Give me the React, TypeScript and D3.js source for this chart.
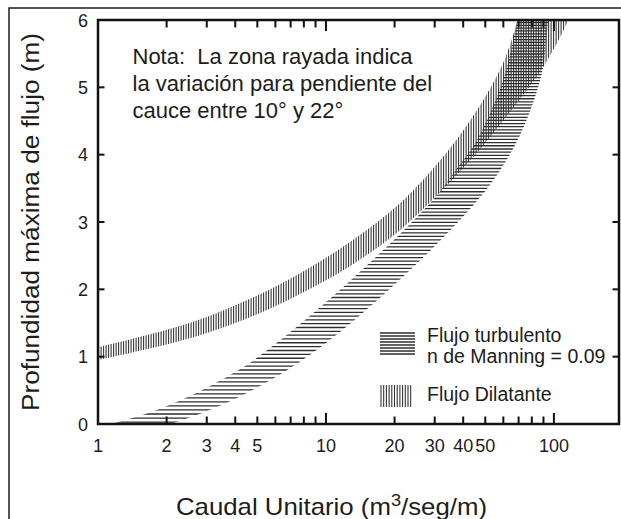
import React from 'react';
import * as d3 from 'd3';

// Unit discharge q (m3/seg/m) against maximum flow depth h (m)
// Dilatant flow band: upper and lower bounds (channel slope 10°–22°)
const dilatanteUpperQ = [1, 2, 3, 5, 7.7, 12.7, 21, 31.6, 40, 50, 60, 67, 70];
const dilatanteUpperH = [1.14, 1.4, 1.59, 1.91, 2.24, 2.7, 3.27, 3.91, 4.36, 4.86, 5.37, 5.83, 6.06];
const dilatanteLowerQ = [1, 2, 3, 5, 7.7, 12.7, 21, 31.6, 45, 65, 90, 114, 125];
const dilatanteLowerH = [0.95, 1.18, 1.35, 1.63, 1.93, 2.34, 2.87, 3.44, 3.99, 4.66, 5.31, 5.95, 6.3];

// Turbulent flow band (Manning n = 0.09): upper and lower bounds
const turbulentoUpperQ = [1.15, 1.35, 1.55, 1.85, 2.66, 3.9, 4.6, 6.5, 9.1, 12.7, 17.8, 25, 31.6, 38, 45, 52, 58, 63, 67, 70];
const turbulentoUpperH = [0, 0.07, 0.13, 0.22, 0.45, 0.75, 0.9, 1.28, 1.69, 2.12, 2.58, 3.07, 3.45, 3.82, 4.16, 4.59, 4.97, 5.37, 5.77, 6.11];
const turbulentoLowerQ = [2.1, 2.45, 2.75, 3.1, 4.2, 5.3, 6.6, 7.8, 10.5, 14.5, 20, 28, 40, 52.4, 62, 71, 78.5, 84, 89.8, 93, 96];
const turbulentoLowerH = [0, 0.08, 0.14, 0.21, 0.41, 0.59, 0.78, 0.94, 1.26, 1.65, 2.07, 2.54, 3.08, 3.55, 3.92, 4.29, 4.64, 4.93, 5.31, 5.8, 6.2];

// Axes
const xDomain = [1, 193];
const yDomain = [0, 6];
const xTickLabels = [1, 2, 3, 4, 5, 10, 20, 30, 40, 50, 100];
const xMinorTicks = [2, 3, 4, 5, 6, 7, 8, 9, 20, 30, 40, 50, 60, 70, 80, 90];
const xMajorTicks = [10, 100];
const yTicks = [0, 1, 2, 3, 4, 5, 6];

const noteLines = [
  'Nota:  La zona rayada indica',
  'la variación para pendiente del',
  'cauce entre 10° y 22°',
];
const legendTurbulento = ['Flujo turbulento', 'n de Manning = 0.09'];
const legendDilatante = 'Flujo Dilatante';

const W = 621;
const H = 519;
const FONT = "'Liberation Sans', Arial, Helvetica, sans-serif";
const INK = '#1c1c1c';
const HATCH = '#2e2e2e';

export default function App() {
  const left = 98, right = 619, top = 20, bottom = 424;
  const x = d3.scaleLog().domain(xDomain).range([left, right]);
  const y = d3.scaleLinear().domain(yDomain).range([bottom, top]);

  const pts = (qs: number[], hs: number[]) =>
    qs.map((q, i) => [x(q), y(hs[i])] as [number, number]);
  const lineGen = d3.line().curve(d3.curveCatmullRom.alpha(0.5));
  const bandPath = (upper: [number, number][], lower: [number, number][]) => {
    const a = lineGen(upper) as string;
    const b = lineGen(lower.slice().reverse()) as string;
    return a + 'L' + b.slice(1) + 'Z';
  };

  const dilPath = bandPath(pts(dilatanteUpperQ, dilatanteUpperH), pts(dilatanteLowerQ, dilatanteLowerH));
  const turPath = bandPath(pts(turbulentoUpperQ, turbulentoUpperH), pts(turbulentoLowerQ, turbulentoLowerH));

  // vertical hatch for the dilatant band
  const vLines = d3.range(left + 0.6, right, 2.5);
  // horizontal hatch for the turbulent band, a little wider apart near the bed
  const hLines: number[] = [];
  for (let yy = bottom - 1.8; yy > top - 3; ) {
    hLines.push(yy);
    yy -= 2.8 + 1.3 * (yy - top) / (bottom - top);
  }

  // legend swatches
  const sw1 = { x: 380, y: 332, w: 35, h: 23 };
  const sw2 = { x: 380, y: 385, w: 33, h: 22 };

  return (
    <svg
      width={W}
      height={H}
      viewBox={`0 0 ${W} ${H}`}
      style={{ position: 'absolute', left: 0, top: 0, background: '#fff' }}
      fontFamily={FONT}
    >
      <rect x={0} y={0} width={W} height={H} fill="#fff" />
      {/* outer frame */}
      <rect x={9} y={8} width={W + 40} height={H + 40} fill="none" stroke="#2a2a2a" strokeWidth={1.6} />

      <defs>
        <clipPath id="plotClip">
          <rect x={left} y={top} width={right - left} height={bottom - top} />
        </clipPath>
        <clipPath id="dilClip">
          <path d={dilPath} />
        </clipPath>
        <clipPath id="turClip">
          <path d={turPath} />
        </clipPath>
        <clipPath id="sw1Clip">
          <rect x={sw1.x} y={sw1.y} width={sw1.w} height={sw1.h} />
        </clipPath>
        <clipPath id="sw2Clip">
          <rect x={sw2.x} y={sw2.y} width={sw2.w} height={sw2.h} />
        </clipPath>
      </defs>

      {/* hatched bands */}
      <g clipPath="url(#plotClip)">
        <g clipPath="url(#turClip)">
          {hLines.map((yy, i) => (
            <line key={i} x1={left} x2={right} y1={yy} y2={yy} stroke={HATCH} strokeWidth={1.3} />
          ))}
        </g>
        <g clipPath="url(#dilClip)">
          {vLines.map((xx, i) => (
            <line key={i} x1={xx} x2={xx} y1={top} y2={bottom} stroke={HATCH} strokeWidth={1.05} />
          ))}
        </g>
      </g>

      {/* axes box */}
      <rect x={left} y={top} width={right - left} height={bottom - top} fill="none" stroke="#111" strokeWidth={2.5} />

      {/* x ticks (bottom and top, inward) */}
      {xMinorTicks.map((t) => (
        <g key={'m' + t}>
          <line x1={x(t)} x2={x(t)} y1={bottom} y2={bottom - 7.5} stroke="#111" strokeWidth={2} />
          <line x1={x(t)} x2={x(t)} y1={top} y2={top + 7.5} stroke="#111" strokeWidth={2} />
        </g>
      ))}
      {xMajorTicks.map((t) => (
        <g key={'M' + t}>
          <line x1={x(t)} x2={x(t)} y1={bottom} y2={bottom - 11} stroke="#111" strokeWidth={2} />
          <line x1={x(t)} x2={x(t)} y1={top} y2={top + 11} stroke="#111" strokeWidth={2} />
        </g>
      ))}
      {/* y ticks (left and right, inward) */}
      {yTicks.map((t) => (
        <g key={'y' + t}>
          <line x1={left} x2={left + 6.5} y1={y(t)} y2={y(t)} stroke="#111" strokeWidth={2} />
          <line x1={right} x2={right - 6.5} y1={y(t)} y2={y(t)} stroke="#111" strokeWidth={2} />
        </g>
      ))}

      {/* tick labels */}
      {xTickLabels.map((t) => (
        <text key={'xl' + t} x={x(t)} y={452} textAnchor="middle" fontSize={18} fill={INK}>
          {t}
        </text>
      ))}
      {yTicks.map((t) => (
        <text key={'yl' + t} x={88} y={y(t) + 6.5} textAnchor="end" fontSize={18} fill={INK}>
          {t}
        </text>
      ))}

      {/* axis titles */}
      <text
        x={331.5}
        y={515}
        textAnchor="middle"
        fontSize={24}
        fill={INK}
        textLength={311}
        lengthAdjust="spacingAndGlyphs"
      >
        Caudal Unitario (m<tspan fontSize={17} dy={-9}>3</tspan>
        <tspan dy={9}>/seg/m)</tspan>
      </text>
      <text
        transform="translate(39,222) rotate(-90)"
        textAnchor="middle"
        fontSize={23}
        fill={INK}
        textLength={378}
        lengthAdjust="spacingAndGlyphs"
      >
        Profundidad máxima de flujo (m)
      </text>

      {/* note */}
      {noteLines.map((s, i) => (
        <text key={'n' + i} x={132.5} y={64 + i * 27.2} fontSize={22} fill={INK} style={{ whiteSpace: 'pre' }}>
          {s}
        </text>
      ))}

      {/* legend */}
      <g clipPath="url(#sw1Clip)">
        {d3.range(sw1.y + 1, sw1.y + sw1.h, 3).map((yy, i) => (
          <line key={i} x1={sw1.x} x2={sw1.x + sw1.w} y1={yy} y2={yy} stroke={HATCH} strokeWidth={1.3} />
        ))}
      </g>
      <g clipPath="url(#sw2Clip)">
        {d3.range(sw2.x + 1, sw2.x + sw2.w, 2.7).map((xx, i) => (
          <line key={i} x1={xx} x2={xx} y1={sw2.y} y2={sw2.y + sw2.h} stroke={HATCH} strokeWidth={1.05} />
        ))}
      </g>
      <text x={427} y={342} fontSize={19.5} fill={INK}>{legendTurbulento[0]}</text>
      <text x={427} y={363} fontSize={19.5} fill={INK}>{legendTurbulento[1]}</text>
      <text x={427} y={401} fontSize={19.5} fill={INK}>{legendDilatante}</text>
    </svg>
  );
}
